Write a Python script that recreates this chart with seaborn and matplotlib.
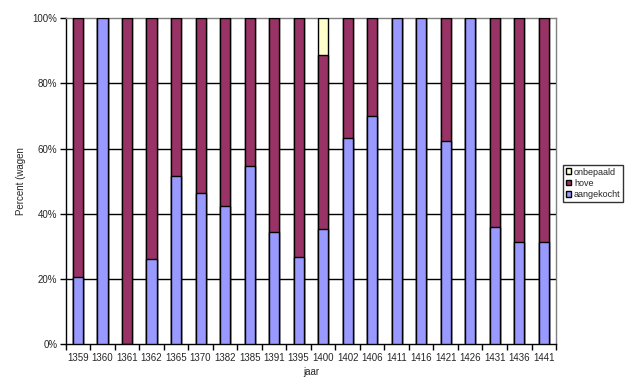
import numpy as np
import pandas as pd
import matplotlib.pyplot as plt
import seaborn as sns
from matplotlib.patches import Patch
from matplotlib.ticker import FixedLocator

sns.set_style("white")
plt.rcParams['font.family'] = ['Liberation Sans', 'DejaVu Sans']

# data (percent of wagons)
years = ["1359", "1360", "1361", "1362", "1365", "1370", "1382", "1385", "1391", "1395",
         "1400", "1402", "1406", "1411", "1416", "1421", "1426", "1431", "1436", "1441"]
aangekocht = [20.5, 100, 0, 26.1, 51.5, 46.3, 42.3, 54.6, 34.3, 26.7,
              35.2, 63.1, 70.0, 100, 100, 62.2, 100, 36.0, 31.4, 31.4]
onbepaald = [0, 0, 0, 0, 0, 0, 0, 0, 0, 0,
             11.3, 0, 0, 0, 0, 0, 0, 0, 0, 0]
hove = [100 - a - o for a, o in zip(aangekocht, onbepaald)]

blue = "#9999FF"
purple = "#993366"
yellow = "#FFFFCC"

df = pd.DataFrame({"jaar": years, "aangekocht": aangekocht, "hove": hove, "onbepaald": onbepaald})
df["mid"] = df["aangekocht"] + df["hove"]
df["total"] = df["mid"] + df["onbepaald"]

fig = plt.figure(figsize=(6.27, 3.9), dpi=100)
ax = fig.add_axes([0.1048, 0.117, 0.782, 0.837])

# stacked bars: draw cumulative totals from top layer down
for col, c in [("total", yellow), ("mid", purple), ("aangekocht", blue)]:
    sns.barplot(data=df, x="jaar", y=col, order=years, color=c, saturation=1,
                width=0.41, edgecolor="black", linewidth=1, ax=ax, zorder=3)

ax.set_xlim(-0.5, len(years) - 0.5)
ax.set_ylim(0, 100)
ax.set_yticks([0, 20, 40, 60, 80, 100])
ax.set_yticklabels([f"{v}%" for v in [0, 20, 40, 60, 80, 100]])
for v in [20, 40, 60, 80]:
    ax.axhline(v, color="black", linewidth=1, zorder=1)

ax.xaxis.set_minor_locator(FixedLocator(np.arange(-0.5, len(years), 1)))
ax.tick_params(axis="x", which="major", length=0, pad=6, labelsize=7)
ax.tick_params(axis="x", which="minor", length=4, width=1, color="black", direction="out")
ax.tick_params(axis="y", length=4, width=1, color="black", direction="out", labelsize=7, pad=2)
ax.xaxis.set_ticks_position("bottom")
ax.yaxis.set_ticks_position("left")

for s in ["left", "bottom"]:
    ax.spines[s].set_color("black")
    ax.spines[s].set_linewidth(1)
for s in ["top", "right"]:
    ax.spines[s].set_color("#808080")
    ax.spines[s].set_linewidth(1)

ax.set_xlabel("jaar", fontsize=7, labelpad=3)
ax.set_ylabel("Percent (wagen", fontsize=7, labelpad=5)

handles = [Patch(facecolor=yellow, edgecolor="black", label="onbepaald"),
           Patch(facecolor=purple, edgecolor="black", label="hove"),
           Patch(facecolor=blue, edgecolor="black", label="aangekocht")]
fig.legend(handles=handles, loc="center left", bbox_to_anchor=(0.898, 0.53),
           fontsize=6.5, frameon=True, fancybox=False, edgecolor="black",
           handlelength=0.6, handleheight=0.6, handletextpad=0.3,
           borderpad=0.3, labelspacing=0.25, borderaxespad=0)

fig.savefig("out.png", dpi=100)
